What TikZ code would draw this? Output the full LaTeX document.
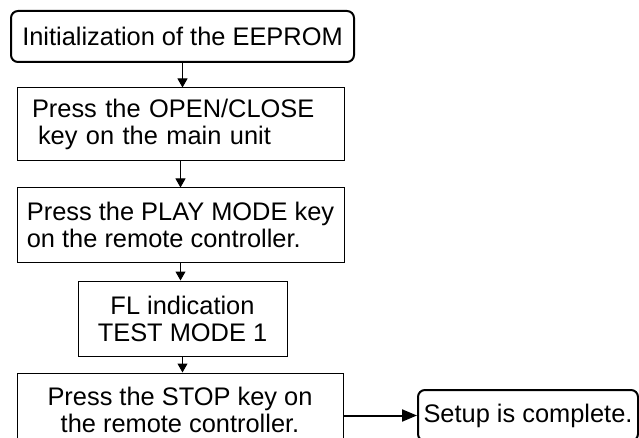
\documentclass[tikz,border=0pt]{standalone}
\usepackage{fontspec}
\setmainfont{Liberation Sans}
\usetikzlibrary{arrows.meta}
\tikzstyle{Step}=[draw,line width=1pt,inner sep=0pt,
font=\fontsize{25.4}{27}\selectfont]
\tikzstyle{Term}=[Step,rounded corners=7pt,line width=2pt]
\tikzstyle{Edge}=[draw,line width=1pt,-{Triangle[length=9pt,width=10pt]}]
\tikzstyle{EdgeEnd}=[Edge,line width=2pt,-{Triangle[length=15pt,width=12pt]}]

\begin{document}
\begin{tikzpicture}[x=1pt,y=-1pt]
        \useasboundingbox(0,0)rectangle(639,438);
        \clip(0,0)rectangle(639,438);
        \node[Term,minimum width=343pt,minimum height=51pt](init)
            at(182.5,36.5){Initialization of the EEPROM};
        \node[Step,minimum width=327pt,minimum height=73pt,
            text width=297pt,align=left](open)at(180.5,124.5)
            {Press the OPEN/CLOSE\\\hspace*{6pt}key on\ the main unit};
        \node[Step,minimum width=327pt,minimum height=74pt,
            align=left](play)at(180.5,225)
            {Press the PLAY MODE key\\on\ the remote controller.};
        \node[Step,minimum width=209pt,minimum height=75pt,
            align=center](fl)at(182.5,318.5)
            {FL indication\\TEST MODE 1};
        \node[Step,minimum width=326pt,minimum height=73pt,
            align=center](stop)at(180,409.5)
            {Press the STOP key on\\the remote controller.};
        \node[Term,minimum width=220pt,minimum height=51pt](done)
            at(528,415.5){Setup is complete.};
        \draw[Edge](init.south)--(init.south|-open.north);
        \draw[Edge](open.south)--(open.south|-play.north);
        \draw[Edge](play.south)--(play.south|-fl.north);
        \draw[Edge](fl.south)--(fl.south|-stop.north);
        \draw[EdgeEnd](stop.east|-done.west)--(done.west);
    \end{tikzpicture}
\end{document}
